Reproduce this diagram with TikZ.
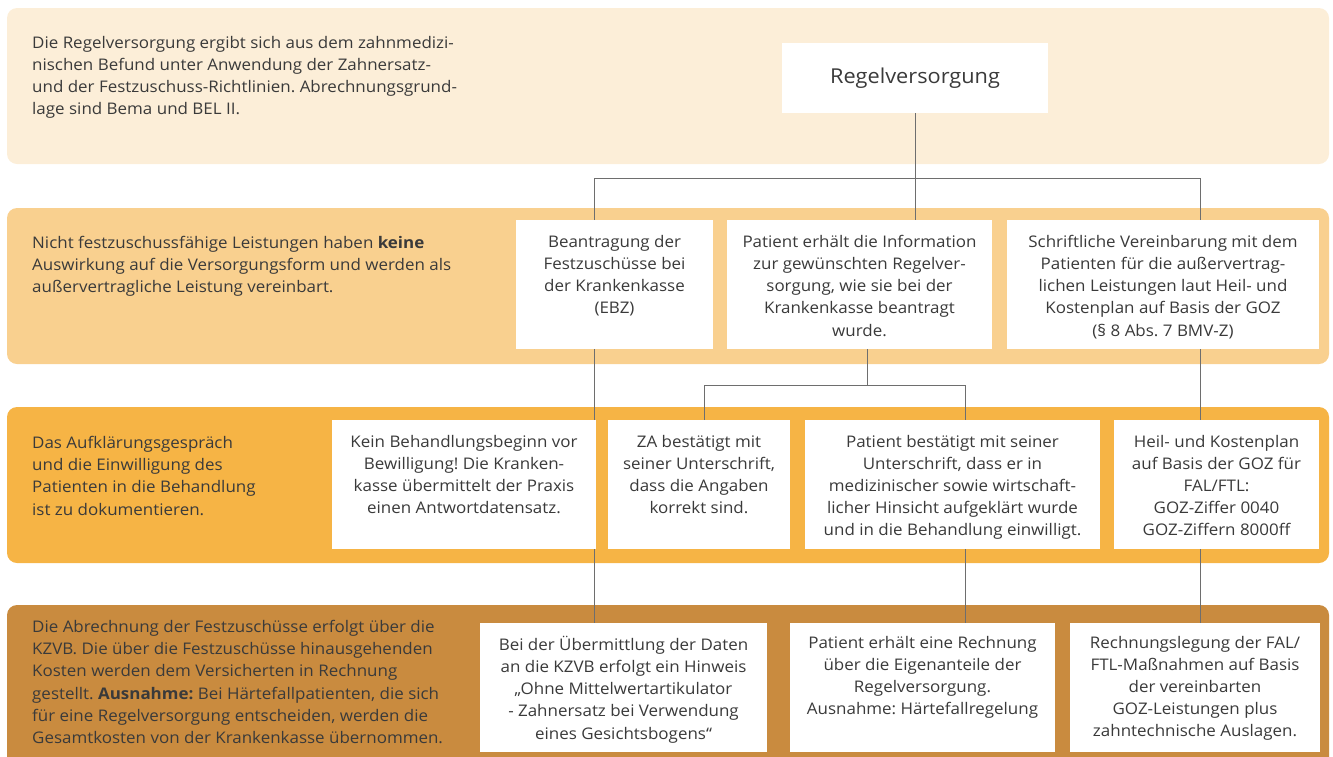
\documentclass[tikz,border=0pt]{standalone}
\usepackage{fontspec}
\setmainfont{Open Sans}[FakeStretch=1.06]
\frenchspacing
\definecolor{bandA}{HTML}{FCEED8}
\definecolor{bandB}{HTML}{F9D08F}
\definecolor{bandC}{HTML}{F6B445}
\definecolor{bandD}{HTML}{C98B3F}
\definecolor{txt}{HTML}{3A3A3A}
\definecolor{lncol}{HTML}{6E6E6E}
\newcommand\fs{\fontsize{16}{22.2}\selectfont}
\pgfdeclarelayer{bands}
\pgfdeclarelayer{lines}
\pgfsetlayers{bands,lines,main}
\tikzset{
  band/.style={rounded corners=10pt, draw=none},
  wbox/.style={fill=white, draw=none, inner sep=0pt, rectangle},
  btxt/.style={inner sep=0pt, align=center, anchor=north, font=\fs, text=txt},
  ltxt/.style={inner sep=0pt, align=left, anchor=north west, font=\fs, text=txt},
  conn/.style={draw=lncol, line width=0.9pt},
}
% name, left, top, right, bottom
\newcommand\wb[5]{%
  \node[wbox, minimum width={(#4-#2)*1pt}, minimum height={(#5-#3)*1pt}]
    (#1) at ({(#2+#4)/2},{(#3+#5)/2}) {};}
\begin{document}
\begin{tikzpicture}[x=1pt,y=-1pt]
\useasboundingbox (0,0) rectangle (1333,756);
\begin{pgfonlayer}{bands}
  \begin{scope}
    \clip (0,0) rectangle (1333,756);
    \fill[band, bandA] (7,8) rectangle (1329,164);
    \fill[band, bandB] (7,208) rectangle (1329,364);
    \fill[band, bandC] (7,407) rectangle (1329,563);
    \fill[band, bandD] (7,605) rectangle (1329,780);
  \end{scope}
\end{pgfonlayer}

% left texts
\node[ltxt] (t1) at (32,36) {Die Regelversorgung ergibt sich aus dem zahnmedizi-\\nischen Befund unter Anwendung der Zahnersatz-\\und der Festzuschuss-Richtlinien. Abrechnungsgrund-\\lage sind Bema und BEL II.};
\node[ltxt] (t2) at (32,236) {Nicht festzuschussfähige Leistungen haben \textbf{keine}\\Auswirkung auf die Versorgungsform und werden als\\außervertragliche Leistung vereinbart.};
\node[ltxt] (t3) at (32,436) {Das Aufklärungsgespräch\\und die Einwilligung des\\Patienten in die Behandlung\\ist zu dokumentieren.};
\node[ltxt] (t4) at (32,620) {Die Abrechnung der Festzuschüsse erfolgt über die\\KZVB. Die über die Festzuschüsse hinausgehenden\\Kosten werden dem Versicherten in Rechnung\\gestellt. \textbf{Ausnahme:} Bei Härtefallpatienten, die sich\\für eine Regelversorgung entscheiden, werden die\\Gesamtkosten von der Krankenkasse übernommen.};

% boxes
\node[wbox, minimum width=266pt, minimum height=70pt, font=\fontsize{20.5}{24}\selectfont, text=txt] (reg) at (915,78) {Regelversorgung};

\wb{A}{516}{220}{713}{349}
\wb{B}{727}{220}{992}{349}
\wb{C}{1007}{220}{1319}{349}

\wb{K}{332}{420}{596}{549}
\wb{ZA}{608}{420}{790}{549}
\wb{PB}{805}{420}{1100}{549}
\wb{HK}{1114}{420}{1319}{549}

\wb{U}{480}{623}{767}{752}
\wb{R}{790}{623}{1055}{752}
\wb{RL}{1070}{623}{1320}{752}

\node[btxt] (A-t) at ([yshift=-15pt]A.north) {Beantragung der\\Festzuschüsse bei\\der Krankenkasse\\(EBZ)};
\node[btxt] (B-t) at ([yshift=-15pt]B.north) {Patient erhält die Information\\zur gewünschten Regelver-\\sorgung, wie sie bei der\\Krankenkasse beantragt\\wurde.};
\node[btxt] (C-t) at ([yshift=-15pt]C.north) {Schriftliche Vereinbarung mit dem\\Patienten für die außervertrag-\\lichen Leistungen laut Heil- und\\Kostenplan auf Basis der GOZ\\(§ 8 Abs. 7 BMV-Z)};

\node[btxt] (K-t) at ([yshift=-15pt]K.north) {Kein Behandlungsbeginn vor\\Bewilligung! Die Kranken-\\kasse übermittelt der Praxis\\einen Antwortdatensatz.};
\node[btxt] (ZA-t) at ([yshift=-15pt]ZA.north) {ZA bestätigt mit\\seiner Unterschrift,\\dass die Angaben\\korrekt sind.};
\node[btxt] (PB-t) at ([yshift=-15pt]PB.north) {Patient bestätigt mit seiner\\Unterschrift, dass er in\\medizinischer sowie wirtschaft-\\licher Hinsicht aufgeklärt wurde\\und in die Behandlung einwilligt.};
\node[btxt] (HK-t) at ([yshift=-15pt]HK.north) {Heil- und Kostenplan\\auf Basis der GOZ für\\FAL/FTL:\\GOZ-Ziffer 0040\\GOZ-Ziffern 8000ff};

\node[btxt] (U-t) at ([yshift=-13pt]U.north) {Bei der Übermittlung der Daten\\an die KZVB erfolgt ein Hinweis\\„Ohne Mittelwertartikulator\\- Zahnersatz bei Verwendung\\eines Gesichtsbogens“};
\node[btxt] (R-t) at ([yshift=-13pt]R.north) {Patient erhält eine Rechnung\\über die Eigenanteile der\\Regelversorgung.\\Ausnahme: Härtefallregelung};
\node[btxt] (RL-t) at ([yshift=-13pt]RL.north) {Rechnungslegung der FAL/\\FTL-Maßnahmen auf Basis\\der vereinbarten\\GOZ-Leistungen plus\\zahntechnische Auslagen.};

% connector taps
\coordinate (xA) at (594,0);
\coordinate (xC) at (1200,0);
\coordinate (xB) at (867,0);
\coordinate (xZ) at (704,0);
\coordinate (xP) at (965,0);
\coordinate (bus1) at (0,178);
\coordinate (bus2) at (0,385);

\begin{pgfonlayer}{lines}
  \draw[conn] (reg.south) -- (reg.south |- B.north);
  \draw[conn] (xA |- A.north) |- (xC |- bus1) -- (xC |- C.north);
  \draw[conn] (xA |- A.south) -- (xA |- U.north);
  \draw[conn] (xB |- B.south) -- (xB |- bus2);
  \draw[conn] (xZ |- ZA.north) |- (xP |- bus2) -- (xP |- PB.north);
  \draw[conn] (xC |- C.south) -- (xC |- HK.north);
  \draw[conn] (xP |- PB.south) -- (xP |- R.north);
  \draw[conn] (xC |- HK.south) -- (xC |- RL.north);
\end{pgfonlayer}
\end{tikzpicture}
\end{document}
